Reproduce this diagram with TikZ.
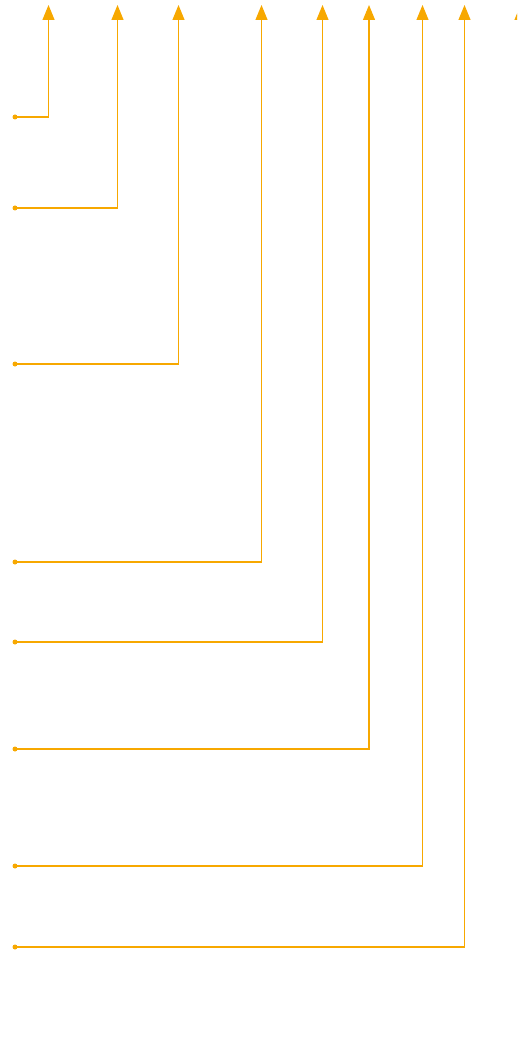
\documentclass[tikz,border=0pt]{standalone}
\usetikzlibrary{arrows.meta}
\definecolor{ambar}{RGB}{247,168,0}

\begin{document}
\begin{tikzpicture}[x=1pt,y=-1pt]
    % Limites del grafico
    \useasboundingbox (0,0) rectangle (517,1056);
    \clip (0,0) rectangle (517,1056);

    % Estilos de las lineas y puntos
    \tikzset{
        guia/.style={-{Triangle[length=15pt,width=12pt]},line width=1.2pt,ambar},
        punto/.style={circle,fill=ambar,inner sep=0pt,minimum size=5pt}
    }

    % Definir los puntos de partida
    \node[punto] (S1) at (15,117) {};
    \node[punto] (S2) at (15,208) {};
    \node[punto] (S3) at (15,364) {};
    \node[punto] (S4) at (15,562) {};
    \node[punto] (S5) at (15,642) {};
    \node[punto] (S6) at (15,749) {};
    \node[punto] (S7) at (15,866) {};
    \node[punto] (S8) at (15,947) {};

    % Definir las puntas de las flechas
    \coordinate (T1) at (48.5,5);
    \coordinate (T2) at (117.5,5);
    \coordinate (T3) at (178.5,5);
    \coordinate (T4) at (261.5,5);
    \coordinate (T5) at (322.5,5);
    \coordinate (T6) at (369,5);
    \coordinate (T7) at (422.5,5);
    \coordinate (T8) at (464.5,5);
    \coordinate (T9) at (520.5,5);
    \coordinate (B9) at (520.5,40);

    % Dibujar las flechas en escuadra
    \draw[guia] (S1.center) -| (T1);
    \draw[guia] (S2.center) -| (T2);
    \draw[guia] (S3.center) -| (T3);
    \draw[guia] (S4.center) -| (T4);
    \draw[guia] (S5.center) -| (T5);
    \draw[guia] (S6.center) -| (T6);
    \draw[guia] (S7.center) -| (T7);
    \draw[guia] (S8.center) -| (T8);

    % Flecha cortada en el borde derecho
    \draw[guia] (B9) -- (T9);
\end{tikzpicture}
\end{document}
